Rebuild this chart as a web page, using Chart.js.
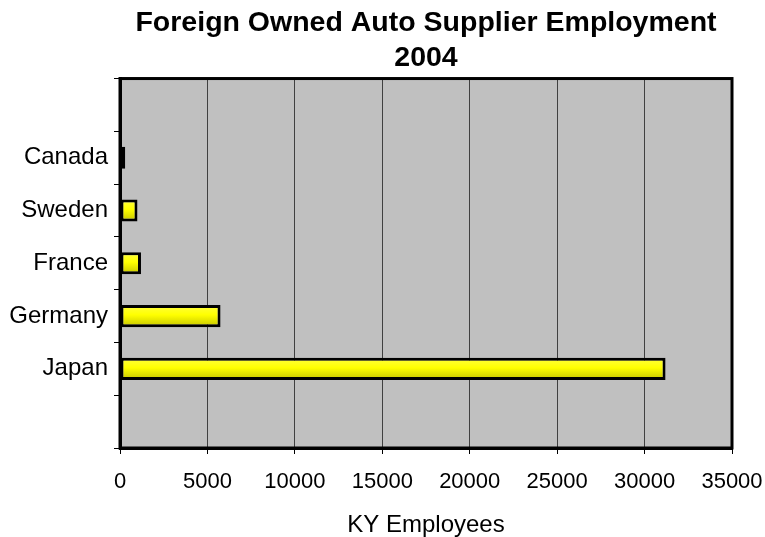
<!DOCTYPE html>
<html>
<head>
<meta charset="utf-8">
<script src="https://cdn.jsdelivr.net/npm/chart.js@4.4.1/dist/chart.umd.min.js"></script>
<style>
  body { margin: 0; background: #fff; }
</style>
</head>
<body>
<canvas id="bar-chart" width="765" height="537"></canvas>
<script>
// empty slots at top and bottom like the original axis
const categories = ['', 'Canada', 'Sweden', 'France', 'Germany', 'Japan', ''];
const employees = [null, 300, 1000, 1200, 5750, 31200, null];
const xTicks = [0, 5000, 10000, 15000, 20000, 25000, 30000, 35000];
const titleLines = ['Foreign Owned Auto Supplier Employment', '2004'];
const xTitle = 'KY Employees';

const FONT = "'Liberation Sans', Arial, sans-serif";

// grey plot background + black frame
const plotFrame = {
  id: 'plotFrame',
  beforeDraw(chart) {
    const { ctx, chartArea: a } = chart;
    ctx.save();
    ctx.fillStyle = '#c0c0c0';
    ctx.fillRect(a.left, a.top, a.right - a.left, a.bottom - a.top);
    ctx.restore();
  },
  afterDatasetsDraw(chart) {
    const { ctx, chartArea: a } = chart;
    ctx.save();
    ctx.strokeStyle = '#000';
    ctx.lineWidth = 3;
    ctx.strokeRect(a.left, a.top, a.right - a.left, a.bottom - a.top);
    ctx.restore();
  }
};

function barFill(context) {
  const chart = context.chart;
  if (!chart.chartArea || !chart.scales.y) return '#ffff00';
  const yc = chart.scales.y.getPixelForValue(context.dataIndex);
  const g = chart.ctx.createLinearGradient(0, yc - 11, 0, yc + 11);
  g.addColorStop(0, '#ffff40');
  g.addColorStop(0.45, '#ffff00');
  g.addColorStop(1, '#c4c400');
  return g;
}

const ctx = document.getElementById('bar-chart').getContext('2d');
new Chart(ctx, {
  type: 'bar',
  data: {
    labels: categories,
    datasets: [{
      data: employees,
      backgroundColor: barFill,
      borderColor: '#000',
      borderWidth: 3,
      borderSkipped: false,
      barPercentage: 0.42,
      categoryPercentage: 1
    }]
  },
  plugins: [plotFrame],
  options: {
    indexAxis: 'y',
    responsive: false,
    animation: false,
    layout: { padding: { top: 0, right: 33, bottom: 0, left: 0 } },
    scales: {
      x: {
        min: 0,
        max: 35000,
        afterBuildTicks(scale) {
          scale.ticks = xTicks.map(v => ({ value: v }));
        },
        afterFit(scale) {
          scale.height = 89;
          scale.paddingRight = 0;
        },
        grid: {
          color: '#404040',
          lineWidth: 1,
          tickColor: '#000',
          tickLength: 6,
          drawTicks: true
        },
        border: { color: '#000', width: 3 },
        ticks: {
          color: '#000',
          padding: 15,
          maxRotation: 0,
          font: { family: FONT, size: 22 },
          callback: v => String(v)
        },
        title: {
          display: true,
          text: xTitle,
          color: '#000',
          padding: { top: 15, bottom: -3 },
          font: { family: FONT, size: 24 }
        }
      },
      y: {
        afterFit(scale) { scale.width = 120; },
        grid: {
          offset: true,
          drawOnChartArea: false,
          tickColor: '#000',
          tickLength: 6
        },
        border: { color: '#000', width: 3 },
        ticks: {
          color: '#000',
          padding: 6,
          font: { family: FONT, size: 24 }
        }
      }
    },
    plugins: {
      legend: { display: false },
      tooltip: { enabled: false },
      title: {
        display: true,
        fullSize: false,
        text: titleLines,
        color: '#000',
        padding: { top: 6, bottom: 3 },
        font: { family: FONT, size: 28.5, weight: 'bold', lineHeight: 1.22 }
      }
    }
  }
});
</script>
</body>
</html>
